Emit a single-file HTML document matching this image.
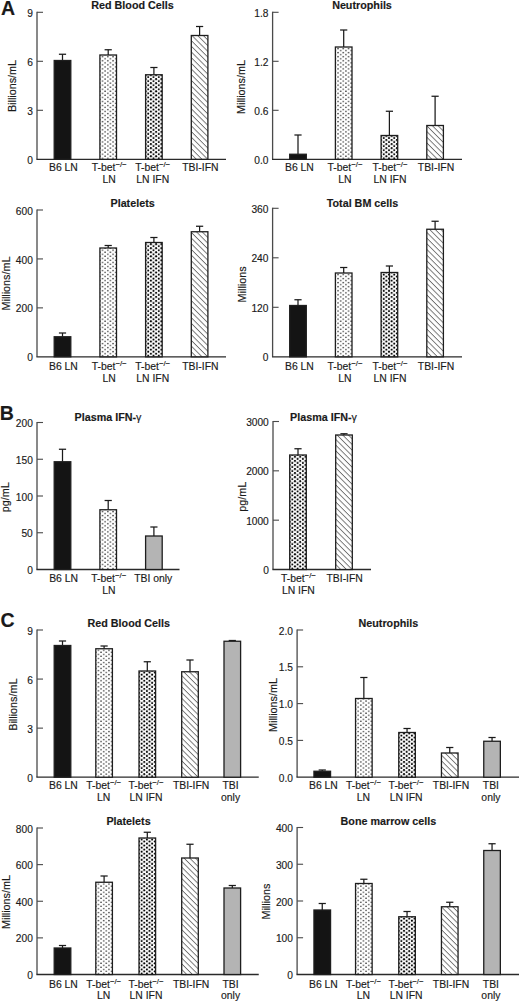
<!DOCTYPE html>
<html><head><meta charset="utf-8"><style>
html,body{margin:0;padding:0;background:#fff;width:520px;height:1003px;overflow:hidden}
svg{display:block}
text{font-family:"Liberation Sans", sans-serif;fill:#1a1a1a;stroke:#1a1a1a;stroke-width:0.15px}
.tl{font-size:10.2px;text-anchor:end}
.xl{font-size:10.4px;text-anchor:middle}
.yl{font-size:10.8px;text-anchor:middle}
.ti{font-size:10.75px;font-weight:bold;text-anchor:middle}
.pl{font-size:19.5px;font-weight:bold}
.sup{font-size:7.8px}
.gm{font-weight:normal}
.ax{stroke:#4a4a4a;stroke-width:1.3;fill:none}
.tk{stroke:#4a4a4a;stroke-width:1.1;fill:none}
.xax{stroke:#2a2a2a;stroke-width:1.3;fill:none}
.eb{stroke:#1a1a1a;stroke-width:1.25;fill:none}
.bar{stroke:#1e1e1e;stroke-width:1.3}
</style></head><body>
<svg width="520" height="1003" viewBox="0 0 520 1003">
<defs>
<pattern id="ps" patternUnits="userSpaceOnUse" x="0" y="0" width="5.26" height="4.06">
<rect width="5.26" height="4.06" fill="#fff"/>
<circle cx="0" cy="1" r="0.7" fill="#262626"/><circle cx="5.26" cy="1" r="0.7" fill="#262626"/><circle cx="2.63" cy="3.03" r="0.7" fill="#262626"/>
</pattern>
<pattern id="pd" patternUnits="userSpaceOnUse" x="0" y="0" width="5.26" height="4.06">
<rect width="5.26" height="4.06" fill="#fff"/>
<circle cx="0" cy="1" r="1.05" fill="#000"/><circle cx="5.26" cy="1" r="1.05" fill="#000"/><circle cx="2.63" cy="3.03" r="1.05" fill="#000"/>
</pattern>
<pattern id="ph" patternUnits="userSpaceOnUse" x="0" y="0" width="4.02" height="4.02" patternTransform="rotate(45)">
<rect width="4.02" height="4.02" fill="#fff"/>
<line x1="0" y1="0.5" x2="4.02" y2="0.5" stroke="#505050" stroke-width="0.75"/>
</pattern>
</defs>
<line x1="37" y1="11.700000000000001" x2="37" y2="159.3" class="ax"/>
<line x1="36.4" y1="159.3" x2="226" y2="159.3" class="xax"/>
<text x="32.8" y="163.90" class="tl">0</text>
<line x1="37" y1="110.30" x2="43" y2="110.30" class="tk"/>
<text x="32.8" y="114.90" class="tl">3</text>
<line x1="37" y1="61.30" x2="43" y2="61.30" class="tk"/>
<text x="32.8" y="65.90" class="tl">6</text>
<line x1="37" y1="12.30" x2="43" y2="12.30" class="tk"/>
<text x="32.8" y="16.90" class="tl">9</text>
<line x1="62.5" y1="60.5" x2="62.5" y2="54.25" class="eb"/>
<line x1="58.9" y1="54.25" x2="66.1" y2="54.25" class="eb"/>
<rect x="54.20" y="60.5" width="16.6" height="98.80" fill="#141414" class="bar"/>
<text x="63.40" y="171.20" class="xl">B6 LN</text>
<line x1="108.2" y1="55.0" x2="108.2" y2="49.75" class="eb"/>
<line x1="104.60000000000001" y1="49.75" x2="111.8" y2="49.75" class="eb"/>
<g transform="translate(99.90,159.3)"><rect x="0" y="-104.30" width="16.6" height="104.30" fill="url(#ps)" class="bar"/></g>
<text x="109.20" y="171.20" class="xl">T-bet<tspan class="sup" dy="-4.0">&#8722;/&#8722;</tspan></text>
<text x="109.20" y="183.00" class="xl">LN</text>
<line x1="153.9" y1="74.75" x2="153.9" y2="67.5" class="eb"/>
<line x1="150.3" y1="67.5" x2="157.5" y2="67.5" class="eb"/>
<g transform="translate(145.60,159.3)"><rect x="0" y="-84.55" width="16.6" height="84.55" fill="url(#pd)" class="bar"/></g>
<text x="152.70" y="171.20" class="xl">T-bet<tspan class="sup" dy="-4.0">&#8722;/&#8722;</tspan></text>
<text x="152.70" y="183.00" class="xl">LN IFN</text>
<line x1="199.6" y1="35.5" x2="199.6" y2="26.5" class="eb"/>
<line x1="196.0" y1="26.5" x2="203.2" y2="26.5" class="eb"/>
<g transform="translate(191.30,159.3)"><rect x="0" y="-123.80" width="16.6" height="123.80" fill="url(#ph)" class="bar"/></g>
<text x="200.40" y="171.20" class="xl">TBI-IFN</text>
<text x="132.5" y="9.30" class="ti">Red Blood Cells</text>
<text transform="translate(16.3,86) rotate(-90)" class="yl">Billions/mL</text>
<line x1="272.6" y1="11.700000000000001" x2="272.6" y2="159.3" class="ax"/>
<line x1="272.0" y1="159.3" x2="462" y2="159.3" class="xax"/>
<text x="268.40000000000003" y="163.90" class="tl">0.0</text>
<line x1="272.6" y1="110.30" x2="278.6" y2="110.30" class="tk"/>
<text x="268.40000000000003" y="114.90" class="tl">0.6</text>
<line x1="272.6" y1="61.30" x2="278.6" y2="61.30" class="tk"/>
<text x="268.40000000000003" y="65.90" class="tl">1.2</text>
<line x1="272.6" y1="12.30" x2="278.6" y2="12.30" class="tk"/>
<text x="268.40000000000003" y="16.90" class="tl">1.8</text>
<line x1="298.0" y1="154.25" x2="298.0" y2="135.0" class="eb"/>
<line x1="294.4" y1="135.0" x2="301.6" y2="135.0" class="eb"/>
<rect x="289.70" y="154.25" width="16.6" height="5.05" fill="#141414" class="bar"/>
<text x="299.40" y="171.20" class="xl">B6 LN</text>
<line x1="343.7" y1="47.0" x2="343.7" y2="30.0" class="eb"/>
<line x1="340.09999999999997" y1="30.0" x2="347.3" y2="30.0" class="eb"/>
<g transform="translate(335.40,159.3)"><rect x="0" y="-112.30" width="16.6" height="112.30" fill="url(#ps)" class="bar"/></g>
<text x="345.00" y="171.20" class="xl">T-bet<tspan class="sup" dy="-4.0">&#8722;/&#8722;</tspan></text>
<text x="345.00" y="183.00" class="xl">LN</text>
<line x1="389.4" y1="135.5" x2="389.4" y2="111.25" class="eb"/>
<line x1="385.79999999999995" y1="111.25" x2="393.0" y2="111.25" class="eb"/>
<g transform="translate(381.10,159.3)"><rect x="0" y="-23.80" width="16.6" height="23.80" fill="url(#pd)" class="bar"/></g>
<text x="390.00" y="171.20" class="xl">T-bet<tspan class="sup" dy="-4.0">&#8722;/&#8722;</tspan></text>
<text x="390.00" y="183.00" class="xl">LN IFN</text>
<line x1="435.1" y1="125.5" x2="435.1" y2="96.25" class="eb"/>
<line x1="431.5" y1="96.25" x2="438.70000000000005" y2="96.25" class="eb"/>
<g transform="translate(426.80,159.3)"><rect x="0" y="-33.80" width="16.6" height="33.80" fill="url(#ph)" class="bar"/></g>
<text x="436.00" y="171.20" class="xl">TBI-IFN</text>
<text x="362" y="9.30" class="ti">Neutrophils</text>
<text transform="translate(245.3,87) rotate(-90)" class="yl">Millions/mL</text>
<line x1="37" y1="209.4" x2="37" y2="356.8" class="ax"/>
<line x1="36.4" y1="356.8" x2="226" y2="356.8" class="xax"/>
<text x="32.8" y="361.40" class="tl">0</text>
<line x1="37" y1="307.87" x2="43" y2="307.87" class="tk"/>
<text x="32.8" y="312.47" class="tl">200</text>
<line x1="37" y1="258.93" x2="43" y2="258.93" class="tk"/>
<text x="32.8" y="263.53" class="tl">400</text>
<line x1="37" y1="210.00" x2="43" y2="210.00" class="tk"/>
<text x="32.8" y="214.60" class="tl">600</text>
<line x1="62.5" y1="336.75" x2="62.5" y2="333.0" class="eb"/>
<line x1="58.9" y1="333.0" x2="66.1" y2="333.0" class="eb"/>
<rect x="54.20" y="336.75" width="16.6" height="20.05" fill="#141414" class="bar"/>
<text x="63.40" y="369.80" class="xl">B6 LN</text>
<line x1="108.2" y1="248.0" x2="108.2" y2="245.5" class="eb"/>
<line x1="104.60000000000001" y1="245.5" x2="111.8" y2="245.5" class="eb"/>
<g transform="translate(99.90,356.8)"><rect x="0" y="-108.80" width="16.6" height="108.80" fill="url(#ps)" class="bar"/></g>
<text x="109.20" y="369.80" class="xl">T-bet<tspan class="sup" dy="-4.0">&#8722;/&#8722;</tspan></text>
<text x="109.20" y="381.60" class="xl">LN</text>
<line x1="153.9" y1="242.5" x2="153.9" y2="237.5" class="eb"/>
<line x1="150.3" y1="237.5" x2="157.5" y2="237.5" class="eb"/>
<g transform="translate(145.60,356.8)"><rect x="0" y="-114.30" width="16.6" height="114.30" fill="url(#pd)" class="bar"/></g>
<text x="152.70" y="369.80" class="xl">T-bet<tspan class="sup" dy="-4.0">&#8722;/&#8722;</tspan></text>
<text x="152.70" y="381.60" class="xl">LN IFN</text>
<line x1="199.6" y1="231.75" x2="199.6" y2="226.25" class="eb"/>
<line x1="196.0" y1="226.25" x2="203.2" y2="226.25" class="eb"/>
<g transform="translate(191.30,356.8)"><rect x="0" y="-125.05" width="16.6" height="125.05" fill="url(#ph)" class="bar"/></g>
<text x="200.40" y="369.80" class="xl">TBI-IFN</text>
<text x="132.6" y="206.90" class="ti">Platelets</text>
<text transform="translate(10.1,283.5) rotate(-90)" class="yl">Millions/mL</text>
<line x1="272.6" y1="207.70000000000002" x2="272.6" y2="356.8" class="ax"/>
<line x1="272.0" y1="356.8" x2="462" y2="356.8" class="xax"/>
<text x="268.40000000000003" y="361.40" class="tl">0</text>
<line x1="272.6" y1="307.30" x2="278.6" y2="307.30" class="tk"/>
<text x="268.40000000000003" y="311.90" class="tl">120</text>
<line x1="272.6" y1="257.80" x2="278.6" y2="257.80" class="tk"/>
<text x="268.40000000000003" y="262.40" class="tl">240</text>
<line x1="272.6" y1="208.30" x2="278.6" y2="208.30" class="tk"/>
<text x="268.40000000000003" y="212.90" class="tl">360</text>
<line x1="298.0" y1="305.5" x2="298.0" y2="299.75" class="eb"/>
<line x1="294.4" y1="299.75" x2="301.6" y2="299.75" class="eb"/>
<rect x="289.70" y="305.5" width="16.6" height="51.30" fill="#141414" class="bar"/>
<text x="299.40" y="369.80" class="xl">B6 LN</text>
<line x1="343.7" y1="273.0" x2="343.7" y2="267.5" class="eb"/>
<line x1="340.09999999999997" y1="267.5" x2="347.3" y2="267.5" class="eb"/>
<g transform="translate(335.40,356.8)"><rect x="0" y="-83.80" width="16.6" height="83.80" fill="url(#ps)" class="bar"/></g>
<text x="345.00" y="369.80" class="xl">T-bet<tspan class="sup" dy="-4.0">&#8722;/&#8722;</tspan></text>
<text x="345.00" y="381.60" class="xl">LN</text>
<line x1="389.4" y1="272.5" x2="389.4" y2="266.0" class="eb"/>
<line x1="385.79999999999995" y1="266.0" x2="393.0" y2="266.0" class="eb"/>
<g transform="translate(381.10,356.8)"><rect x="0" y="-84.30" width="16.6" height="84.30" fill="url(#pd)" class="bar"/></g>
<text x="390.00" y="369.80" class="xl">T-bet<tspan class="sup" dy="-4.0">&#8722;/&#8722;</tspan></text>
<text x="390.00" y="381.60" class="xl">LN IFN</text>
<line x1="435.1" y1="229.25" x2="435.1" y2="221.25" class="eb"/>
<line x1="431.5" y1="221.25" x2="438.70000000000005" y2="221.25" class="eb"/>
<g transform="translate(426.80,356.8)"><rect x="0" y="-127.55" width="16.6" height="127.55" fill="url(#ph)" class="bar"/></g>
<text x="436.00" y="369.80" class="xl">TBI-IFN</text>
<text x="362.5" y="206.90" class="ti">Total BM cells</text>
<text transform="translate(246.3,284.4) rotate(-90)" class="yl">Millions</text>
<line x1="37" y1="421.9" x2="37" y2="569.5" class="ax"/>
<line x1="36.4" y1="569.5" x2="179.5" y2="569.5" class="xax"/>
<text x="32.8" y="574.10" class="tl">0</text>
<line x1="37" y1="532.75" x2="43" y2="532.75" class="tk"/>
<text x="32.8" y="537.35" class="tl">50</text>
<line x1="37" y1="496.00" x2="43" y2="496.00" class="tk"/>
<text x="32.8" y="500.60" class="tl">100</text>
<line x1="37" y1="459.25" x2="43" y2="459.25" class="tk"/>
<text x="32.8" y="463.85" class="tl">150</text>
<line x1="37" y1="422.50" x2="43" y2="422.50" class="tk"/>
<text x="32.8" y="427.10" class="tl">200</text>
<line x1="62.5" y1="461.75" x2="62.5" y2="449.25" class="eb"/>
<line x1="58.9" y1="449.25" x2="66.1" y2="449.25" class="eb"/>
<rect x="54.20" y="461.75" width="16.6" height="107.75" fill="#141414" class="bar"/>
<text x="63.60" y="582.10" class="xl">B6 LN</text>
<line x1="108.2" y1="509.75" x2="108.2" y2="500.5" class="eb"/>
<line x1="104.60000000000001" y1="500.5" x2="111.8" y2="500.5" class="eb"/>
<g transform="translate(99.90,569.5)"><rect x="0" y="-59.75" width="16.6" height="59.75" fill="url(#ps)" class="bar"/></g>
<text x="108.80" y="582.10" class="xl">T-bet<tspan class="sup" dy="-4.0">&#8722;/&#8722;</tspan></text>
<text x="108.80" y="593.90" class="xl">LN</text>
<line x1="153.9" y1="536.0" x2="153.9" y2="527.0" class="eb"/>
<line x1="150.3" y1="527.0" x2="157.5" y2="527.0" class="eb"/>
<rect x="145.60" y="536.0" width="16.6" height="33.50" fill="#b4b4b4" class="bar"/>
<text x="153.20" y="582.10" class="xl">TBI only</text>
<text x="108" y="420.60" class="ti">Plasma IFN-<tspan class="gm">&#947;</tspan></text>
<text transform="translate(9.2,497.3) rotate(-90)" class="yl">pg/mL</text>
<line x1="273" y1="420.9" x2="273" y2="569.5" class="ax"/>
<line x1="272.4" y1="569.5" x2="371" y2="569.5" class="xax"/>
<text x="268.8" y="574.10" class="tl">0</text>
<line x1="273" y1="520.17" x2="279" y2="520.17" class="tk"/>
<text x="268.8" y="524.77" class="tl">1000</text>
<line x1="273" y1="470.83" x2="279" y2="470.83" class="tk"/>
<text x="268.8" y="475.43" class="tl">2000</text>
<line x1="273" y1="421.50" x2="279" y2="421.50" class="tk"/>
<text x="268.8" y="426.10" class="tl">3000</text>
<line x1="298" y1="455.0" x2="298" y2="448.75" class="eb"/>
<line x1="294.4" y1="448.75" x2="301.6" y2="448.75" class="eb"/>
<g transform="translate(289.70,569.5)"><rect x="0" y="-114.50" width="16.6" height="114.50" fill="url(#pd)" class="bar"/></g>
<text x="298.40" y="582.10" class="xl">T-bet<tspan class="sup" dy="-4.0">&#8722;/&#8722;</tspan></text>
<text x="298.40" y="593.90" class="xl">LN IFN</text>
<line x1="344" y1="435.0" x2="344" y2="433.75" class="eb"/>
<line x1="340.4" y1="433.75" x2="347.6" y2="433.75" class="eb"/>
<g transform="translate(335.70,569.5)"><rect x="0" y="-134.50" width="16.6" height="134.50" fill="url(#ph)" class="bar"/></g>
<text x="344.70" y="582.10" class="xl">TBI-IFN</text>
<text x="323.5" y="420.60" class="ti">Plasma IFN-<tspan class="gm">&#947;</tspan></text>
<text transform="translate(246,496.8) rotate(-90)" class="yl">pg/mL</text>
<line x1="37" y1="629.4" x2="37" y2="777.2" class="ax"/>
<line x1="36.4" y1="777.2" x2="258.75" y2="777.2" class="xax"/>
<text x="32.8" y="781.80" class="tl">0</text>
<line x1="37" y1="728.13" x2="43" y2="728.13" class="tk"/>
<text x="32.8" y="732.73" class="tl">3</text>
<line x1="37" y1="679.07" x2="43" y2="679.07" class="tk"/>
<text x="32.8" y="683.67" class="tl">6</text>
<line x1="37" y1="630.00" x2="43" y2="630.00" class="tk"/>
<text x="32.8" y="634.60" class="tl">9</text>
<line x1="62.5" y1="645.5" x2="62.5" y2="641.0" class="eb"/>
<line x1="58.9" y1="641.0" x2="66.1" y2="641.0" class="eb"/>
<rect x="54.20" y="645.5" width="16.6" height="131.70" fill="#141414" class="bar"/>
<text x="63.40" y="789.40" class="xl">B6 LN</text>
<line x1="104.1" y1="648.75" x2="104.1" y2="646.0" class="eb"/>
<line x1="100.5" y1="646.0" x2="107.69999999999999" y2="646.0" class="eb"/>
<g transform="translate(95.80,777.2)"><rect x="0" y="-128.45" width="16.6" height="128.45" fill="url(#ps)" class="bar"/></g>
<text x="103.70" y="789.40" class="xl">T-bet<tspan class="sup" dy="-4.0">&#8722;/&#8722;</tspan></text>
<text x="103.70" y="801.20" class="xl">LN</text>
<line x1="147.3" y1="671.0" x2="147.3" y2="661.75" class="eb"/>
<line x1="143.70000000000002" y1="661.75" x2="150.9" y2="661.75" class="eb"/>
<g transform="translate(139.00,777.2)"><rect x="0" y="-106.20" width="16.6" height="106.20" fill="url(#pd)" class="bar"/></g>
<text x="146.00" y="789.40" class="xl">T-bet<tspan class="sup" dy="-4.0">&#8722;/&#8722;</tspan></text>
<text x="146.00" y="801.20" class="xl">LN IFN</text>
<line x1="190.0" y1="671.75" x2="190.0" y2="660.0" class="eb"/>
<line x1="186.4" y1="660.0" x2="193.6" y2="660.0" class="eb"/>
<g transform="translate(181.70,777.2)"><rect x="0" y="-105.45" width="16.6" height="105.45" fill="url(#ph)" class="bar"/></g>
<text x="191.10" y="789.40" class="xl">TBI-IFN</text>
<line x1="232.3" y1="641.25" x2="232.3" y2="640.5" class="eb"/>
<line x1="228.70000000000002" y1="640.5" x2="235.9" y2="640.5" class="eb"/>
<rect x="224.00" y="641.25" width="16.6" height="135.95" fill="#b4b4b4" class="bar"/>
<text x="230.60" y="789.40" class="xl">TBI</text>
<text x="230.60" y="801.20" class="xl">only</text>
<text x="128.75" y="627.30" class="ti">Red Blood Cells</text>
<text transform="translate(16.6,704.7) rotate(-90)" class="yl">Billions/mL</text>
<line x1="297.1" y1="629.4" x2="297.1" y2="777.2" class="ax"/>
<line x1="296.5" y1="777.2" x2="519" y2="777.2" class="xax"/>
<text x="292.90000000000003" y="781.80" class="tl">0.0</text>
<line x1="297.1" y1="740.40" x2="303.1" y2="740.40" class="tk"/>
<text x="292.90000000000003" y="745.00" class="tl">0.5</text>
<line x1="297.1" y1="703.60" x2="303.1" y2="703.60" class="tk"/>
<text x="292.90000000000003" y="708.20" class="tl">1.0</text>
<line x1="297.1" y1="666.80" x2="303.1" y2="666.80" class="tk"/>
<text x="292.90000000000003" y="671.40" class="tl">1.5</text>
<line x1="297.1" y1="630.00" x2="303.1" y2="630.00" class="tk"/>
<text x="292.90000000000003" y="634.60" class="tl">2.0</text>
<line x1="322.25" y1="771.25" x2="322.25" y2="770.0" class="eb"/>
<line x1="318.65" y1="770.0" x2="325.85" y2="770.0" class="eb"/>
<rect x="313.95" y="771.25" width="16.6" height="5.95" fill="#141414" class="bar"/>
<text x="323.40" y="789.40" class="xl">B6 LN</text>
<line x1="363.85" y1="698.5" x2="363.85" y2="677.5" class="eb"/>
<line x1="360.25" y1="677.5" x2="367.45000000000005" y2="677.5" class="eb"/>
<g transform="translate(355.55,777.2)"><rect x="0" y="-78.70" width="16.6" height="78.70" fill="url(#ps)" class="bar"/></g>
<text x="363.50" y="789.40" class="xl">T-bet<tspan class="sup" dy="-4.0">&#8722;/&#8722;</tspan></text>
<text x="363.50" y="801.20" class="xl">LN</text>
<line x1="407.05" y1="732.5" x2="407.05" y2="728.5" class="eb"/>
<line x1="403.45" y1="728.5" x2="410.65000000000003" y2="728.5" class="eb"/>
<g transform="translate(398.75,777.2)"><rect x="0" y="-44.70" width="16.6" height="44.70" fill="url(#pd)" class="bar"/></g>
<text x="406.10" y="789.40" class="xl">T-bet<tspan class="sup" dy="-4.0">&#8722;/&#8722;</tspan></text>
<text x="406.10" y="801.20" class="xl">LN IFN</text>
<line x1="449.75" y1="753.0" x2="449.75" y2="747.5" class="eb"/>
<line x1="446.15" y1="747.5" x2="453.35" y2="747.5" class="eb"/>
<g transform="translate(441.45,777.2)"><rect x="0" y="-24.20" width="16.6" height="24.20" fill="url(#ph)" class="bar"/></g>
<text x="451.00" y="789.40" class="xl">TBI-IFN</text>
<line x1="492.05" y1="741.25" x2="492.05" y2="737.5" class="eb"/>
<line x1="488.45" y1="737.5" x2="495.65000000000003" y2="737.5" class="eb"/>
<rect x="483.75" y="741.25" width="16.6" height="35.95" fill="#b4b4b4" class="bar"/>
<text x="490.90" y="789.40" class="xl">TBI</text>
<text x="490.90" y="801.20" class="xl">only</text>
<text x="388.4" y="627.30" class="ti">Neutrophils</text>
<text transform="translate(277.3,705) rotate(-90)" class="yl">Millions/mL</text>
<line x1="37" y1="827.4" x2="37" y2="974.5" class="ax"/>
<line x1="36.4" y1="974.5" x2="258.75" y2="974.5" class="xax"/>
<text x="32.8" y="979.10" class="tl">0</text>
<line x1="37" y1="937.88" x2="43" y2="937.88" class="tk"/>
<text x="32.8" y="942.48" class="tl">200</text>
<line x1="37" y1="901.25" x2="43" y2="901.25" class="tk"/>
<text x="32.8" y="905.85" class="tl">400</text>
<line x1="37" y1="864.62" x2="43" y2="864.62" class="tk"/>
<text x="32.8" y="869.23" class="tl">600</text>
<line x1="37" y1="828.00" x2="43" y2="828.00" class="tk"/>
<text x="32.8" y="832.60" class="tl">800</text>
<line x1="62.5" y1="948.0" x2="62.5" y2="945.5" class="eb"/>
<line x1="58.9" y1="945.5" x2="66.1" y2="945.5" class="eb"/>
<rect x="54.20" y="948.0" width="16.6" height="26.50" fill="#141414" class="bar"/>
<text x="63.40" y="987.60" class="xl">B6 LN</text>
<line x1="104.1" y1="882.25" x2="104.1" y2="876.0" class="eb"/>
<line x1="100.5" y1="876.0" x2="107.69999999999999" y2="876.0" class="eb"/>
<g transform="translate(95.80,974.5)"><rect x="0" y="-92.25" width="16.6" height="92.25" fill="url(#ps)" class="bar"/></g>
<text x="103.70" y="987.60" class="xl">T-bet<tspan class="sup" dy="-4.0">&#8722;/&#8722;</tspan></text>
<text x="103.70" y="999.40" class="xl">LN</text>
<line x1="147.3" y1="838.0" x2="147.3" y2="832.25" class="eb"/>
<line x1="143.70000000000002" y1="832.25" x2="150.9" y2="832.25" class="eb"/>
<g transform="translate(139.00,974.5)"><rect x="0" y="-136.50" width="16.6" height="136.50" fill="url(#pd)" class="bar"/></g>
<text x="146.00" y="987.60" class="xl">T-bet<tspan class="sup" dy="-4.0">&#8722;/&#8722;</tspan></text>
<text x="146.00" y="999.40" class="xl">LN IFN</text>
<line x1="190.0" y1="858.0" x2="190.0" y2="844.25" class="eb"/>
<line x1="186.4" y1="844.25" x2="193.6" y2="844.25" class="eb"/>
<g transform="translate(181.70,974.5)"><rect x="0" y="-116.50" width="16.6" height="116.50" fill="url(#ph)" class="bar"/></g>
<text x="191.10" y="987.60" class="xl">TBI-IFN</text>
<line x1="232.3" y1="888.0" x2="232.3" y2="885.5" class="eb"/>
<line x1="228.70000000000002" y1="885.5" x2="235.9" y2="885.5" class="eb"/>
<rect x="224.00" y="888.0" width="16.6" height="86.50" fill="#b4b4b4" class="bar"/>
<text x="230.60" y="987.60" class="xl">TBI</text>
<text x="230.60" y="999.40" class="xl">only</text>
<text x="128.5" y="825.30" class="ti">Platelets</text>
<text transform="translate(10.3,902) rotate(-90)" class="yl">Millions/mL</text>
<line x1="297.1" y1="826.9" x2="297.1" y2="974.5" class="ax"/>
<line x1="296.5" y1="974.5" x2="519" y2="974.5" class="xax"/>
<text x="292.90000000000003" y="979.10" class="tl">0</text>
<line x1="297.1" y1="937.75" x2="303.1" y2="937.75" class="tk"/>
<text x="292.90000000000003" y="942.35" class="tl">100</text>
<line x1="297.1" y1="901.00" x2="303.1" y2="901.00" class="tk"/>
<text x="292.90000000000003" y="905.60" class="tl">200</text>
<line x1="297.1" y1="864.25" x2="303.1" y2="864.25" class="tk"/>
<text x="292.90000000000003" y="868.85" class="tl">300</text>
<line x1="297.1" y1="827.50" x2="303.1" y2="827.50" class="tk"/>
<text x="292.90000000000003" y="832.10" class="tl">400</text>
<line x1="322.25" y1="910.0" x2="322.25" y2="903.5" class="eb"/>
<line x1="318.65" y1="903.5" x2="325.85" y2="903.5" class="eb"/>
<rect x="313.95" y="910.0" width="16.6" height="64.50" fill="#141414" class="bar"/>
<text x="323.40" y="987.60" class="xl">B6 LN</text>
<line x1="363.85" y1="883.5" x2="363.85" y2="879.25" class="eb"/>
<line x1="360.25" y1="879.25" x2="367.45000000000005" y2="879.25" class="eb"/>
<g transform="translate(355.55,974.5)"><rect x="0" y="-91.00" width="16.6" height="91.00" fill="url(#ps)" class="bar"/></g>
<text x="363.50" y="987.60" class="xl">T-bet<tspan class="sup" dy="-4.0">&#8722;/&#8722;</tspan></text>
<text x="363.50" y="999.40" class="xl">LN</text>
<line x1="407.05" y1="916.75" x2="407.05" y2="911.5" class="eb"/>
<line x1="403.45" y1="911.5" x2="410.65000000000003" y2="911.5" class="eb"/>
<g transform="translate(398.75,974.5)"><rect x="0" y="-57.75" width="16.6" height="57.75" fill="url(#pd)" class="bar"/></g>
<text x="406.10" y="987.60" class="xl">T-bet<tspan class="sup" dy="-4.0">&#8722;/&#8722;</tspan></text>
<text x="406.10" y="999.40" class="xl">LN IFN</text>
<line x1="449.75" y1="906.75" x2="449.75" y2="902.25" class="eb"/>
<line x1="446.15" y1="902.25" x2="453.35" y2="902.25" class="eb"/>
<g transform="translate(441.45,974.5)"><rect x="0" y="-67.75" width="16.6" height="67.75" fill="url(#ph)" class="bar"/></g>
<text x="451.00" y="987.60" class="xl">TBI-IFN</text>
<line x1="492.05" y1="850.5" x2="492.05" y2="843.75" class="eb"/>
<line x1="488.45" y1="843.75" x2="495.65000000000003" y2="843.75" class="eb"/>
<rect x="483.75" y="850.5" width="16.6" height="124.00" fill="#b4b4b4" class="bar"/>
<text x="490.90" y="987.60" class="xl">TBI</text>
<text x="490.90" y="999.40" class="xl">only</text>
<text x="388.4" y="825.30" class="ti">Bone marrow cells</text>
<text transform="translate(269.8,901.6) rotate(-90)" class="yl">Millions</text>
<line x1="389.5" y1="272.5" x2="389.5" y2="285.5" class="eb"/>
<text x="0.9" y="15.2" class="pl">A</text>
<text x="-0.2" y="420" class="pl">B</text>
<text x="0.5" y="627.1" class="pl">C</text>
</svg>
</body></html>
